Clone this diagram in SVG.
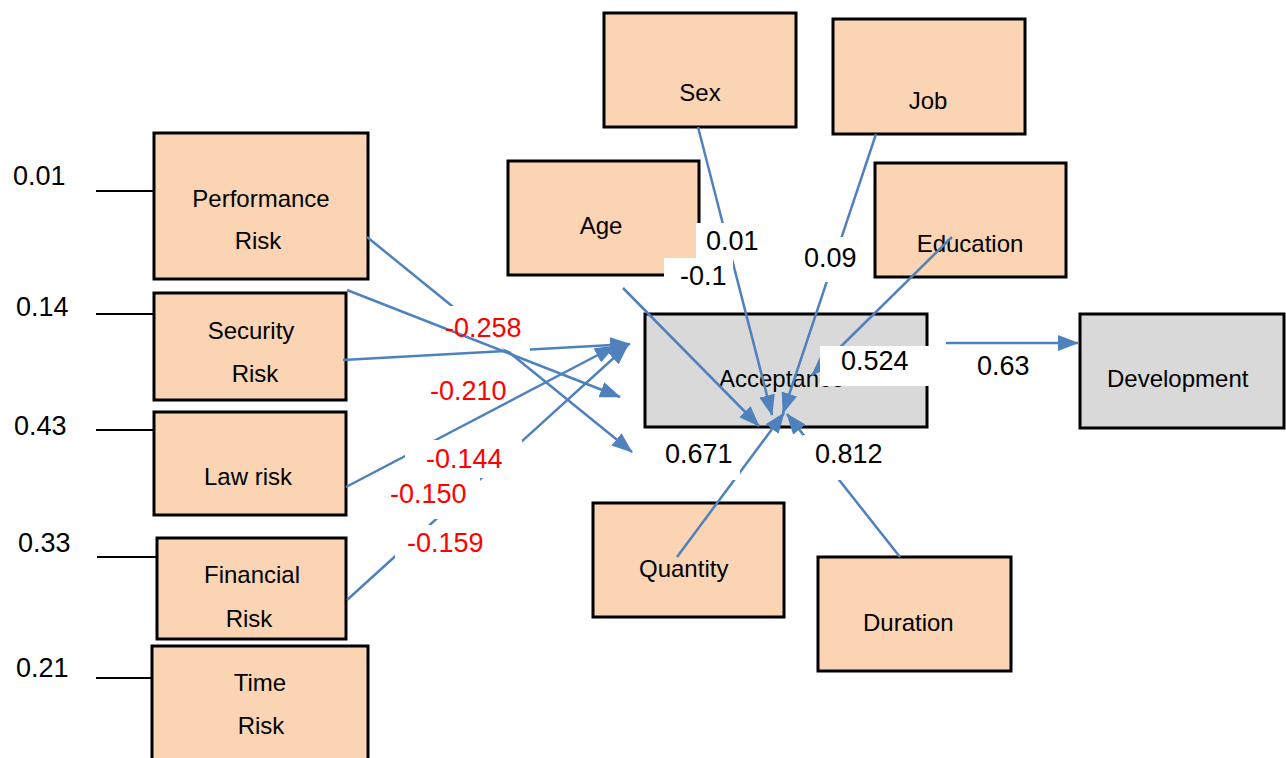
<svg xmlns="http://www.w3.org/2000/svg" width="1286" height="758" viewBox="0 0 1286 758">
<defs>
<marker id="ah" markerUnits="userSpaceOnUse" viewBox="0 0 21 16" markerWidth="21" markerHeight="16" refX="20" refY="8" orient="auto"><path d="M0,0 L21,8 L0,16 z" fill="#4F81BD"/></marker>
<style>
.box{fill:#FBD4B4;stroke:#000;stroke-width:3}
.gbox{fill:#D9D9D9;stroke:#000;stroke-width:3}
.t{font-family:"Liberation Sans",Arial,sans-serif;font-size:24px;fill:#000}
.tm{font-family:"Liberation Sans",Arial,sans-serif;font-size:24px;fill:#000;text-anchor:middle}
.n{font-family:"Liberation Sans",Arial,sans-serif;font-size:27px;fill:#000}
.r{font-family:"Liberation Sans",Arial,sans-serif;font-size:27px;fill:#FF0000}
.c{stroke:#4F81BD;stroke-width:2.5;fill:none;marker-end:url(#ah)}
.k{stroke:#000;stroke-width:2}
.bg{fill:#fff;stroke:none}
</style>
</defs>
<rect x="0" y="0" width="1286" height="758" fill="#fff"/>

<g id="perf"><rect class="box" x="154" y="133" width="214" height="146"/><text class="tm" x="261" y="207">Performance</text><text class="tm" x="258" y="249">Risk</text></g>
<g id="sec"><rect class="box" x="154" y="293" width="192" height="107"/><text class="tm" x="251" y="339">Security</text><text class="tm" x="255" y="382">Risk</text></g>
<g id="law"><rect class="box" x="154" y="412" width="192" height="103"/><text class="tm" x="248" y="485">Law risk</text></g>
<g id="fin"><rect class="box" x="157" y="538" width="189" height="101"/><text class="tm" x="252" y="583">Financial</text><text class="tm" x="249" y="627">Risk</text></g>
<g id="time"><rect class="box" x="152" y="646" width="216" height="124"/><text class="tm" x="260" y="691">Time</text><text class="tm" x="261" y="734">Risk</text></g>
<g id="sex"><rect class="box" x="604" y="13" width="192" height="114"/><text class="tm" x="700" y="101">Sex</text></g>
<g id="job"><rect class="box" x="833" y="19" width="192" height="115"/><text class="tm" x="928" y="109">Job</text></g>
<g id="age"><rect class="box" x="508" y="161" width="191" height="114"/><text class="tm" x="601" y="234">Age</text></g>
<g id="edu"><rect class="box" x="875" y="163" width="191" height="114"/><text class="tm" x="970" y="252">Education</text></g>
<g id="acc"><rect class="gbox" x="645" y="314" width="282" height="113"/><text class="t" x="719" y="387">Acceptance</text></g>
<g id="dev"><rect class="gbox" x="1080" y="314" width="204" height="114"/><text class="t" x="1107" y="387">Development</text></g>
<g id="qty"><rect class="box" x="593" y="503" width="191" height="114"/><text class="t" x="639" y="577">Quantity</text></g>
<g id="dur"><rect class="box" x="818" y="557" width="193" height="114"/><text class="t" x="863" y="631">Duration</text></g>

<g id="connectors">
<line class="k" x1="96" y1="191" x2="154" y2="191"/>
<line class="k" x1="96" y1="314" x2="154" y2="314"/>
<line class="k" x1="96" y1="430" x2="154" y2="430"/>
<line class="k" x1="97" y1="557" x2="157" y2="557"/>
<line class="k" x1="96" y1="678" x2="152" y2="678"/>
<line class="c" x1="367" y1="237" x2="632" y2="452"/>
<line class="c" x1="347" y1="290" x2="620" y2="397"/>
<line class="c" x1="343" y1="360" x2="630" y2="344"/>
<line class="c" x1="346" y1="487" x2="615" y2="346"/>
<line class="c" x1="347" y1="600" x2="628" y2="345"/>
<line class="c" x1="623" y1="288" x2="759" y2="426"/>
<line class="c" x1="698" y1="127" x2="772" y2="415"/>
<line class="c" x1="876" y1="134" x2="783" y2="413"/>
<line class="c" x1="952" y1="237" x2="812" y2="375"/>
<line class="c" x1="677" y1="557" x2="784" y2="413"/>
<line class="c" x1="900" y1="557" x2="787" y2="414"/>
<line class="c" x1="946" y1="343" x2="1078" y2="343"/>
</g>

<g id="labels">
<polygon class="bg" points="440,306 530,306 530,359 440,324"/>
<rect class="bg" x="405" y="440" width="117" height="38"/>
<rect class="bg" x="385" y="476" width="95" height="43"/>
<rect class="bg" x="395" y="525" width="97" height="37"/>
<rect class="bg" x="696" y="223" width="66" height="35"/>
<rect class="bg" x="664" y="258" width="69" height="32"/>
<rect class="bg" x="800" y="237" width="62" height="45"/>
<rect class="bg" x="820" y="346" width="120" height="40"/>
<rect class="bg" x="655" y="432" width="85" height="48"/>
<rect class="bg" x="803" y="435" width="87" height="45"/>
<text class="n" x="13" y="185">0.01</text>
<text class="n" x="16" y="316">0.14</text>
<text class="n" x="14" y="435">0.43</text>
<text class="n" x="18" y="552">0.33</text>
<text class="n" x="16" y="677">0.21</text>
<text class="n" x="706" y="250">0.01</text>
<text class="n" x="680" y="285">-0.1</text>
<text class="n" x="804" y="267">0.09</text>
<text class="n" x="841" y="370">0.524</text>
<text class="n" x="977" y="375">0.63</text>
<text class="n" x="665" y="463">0.671</text>
<text class="n" x="815" y="463">0.812</text>
<text class="r" x="445" y="337">-0.258</text>
<text class="r" x="430" y="400">-0.210</text>
<text class="r" x="426" y="468">-0.144</text>
<text class="r" x="390" y="503">-0.150</text>
<text class="r" x="407" y="552">-0.159</text>
</g>
</svg>
